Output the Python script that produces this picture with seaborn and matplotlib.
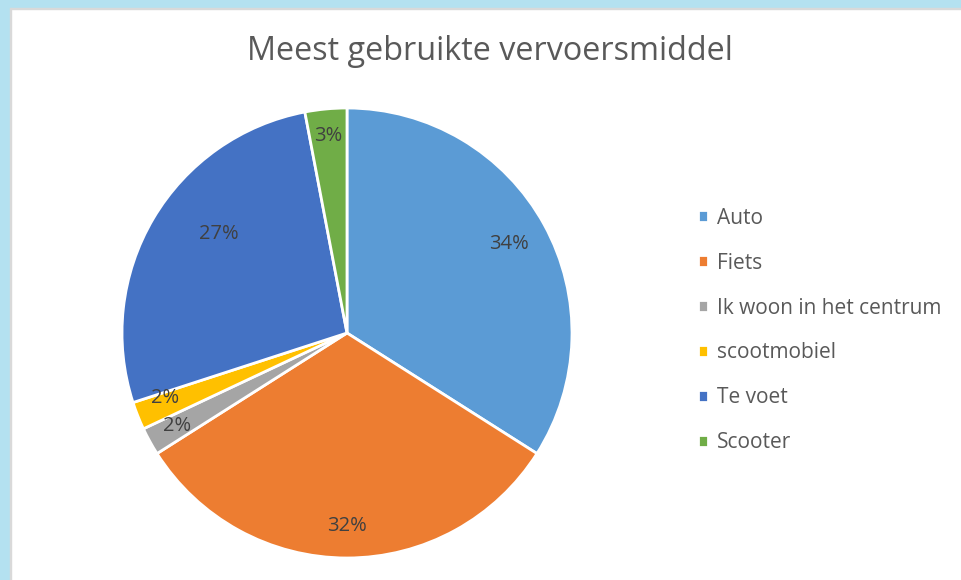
import matplotlib
matplotlib.use("Agg")
import numpy as np
import matplotlib.pyplot as plt
from matplotlib.patches import Rectangle
import seaborn as sns

# data, as shown on the chart
categories = ["Auto", "Fiets", "Ik woon in het centrum", "scootmobiel", "Te voet", "Scooter"]
percentages = [34, 32, 2, 2, 27, 3]
colors = ["#5B9BD5", "#ED7D31", "#A5A5A5", "#FFC000", "#4472C4", "#70AD47"]
# label placement tweaks (fraction of radius, angle shift in degrees), Excel "best fit" look
label_radius = [0.82, 0.86, 0.86, 0.86, 0.72, 0.88]
label_shift = [0, 0, 0, -2, -7, 0]

sns.set_theme(style="white")
plt.rcParams["font.family"] = ["Open Sans", "DejaVu Sans"]

W, H = 961, 580
fig = plt.figure(figsize=(W / 100, H / 100), dpi=100)
fig.patch.set_facecolor("white")

# light blue frame on left and top, like the slide background
blue = "#B4E1F0"
fig.add_artist(Rectangle((0, 0), 10 / W, 1, transform=fig.transFigure, color=blue, zorder=0))
fig.add_artist(Rectangle((0, 1 - 8 / H), 1, 8 / H, transform=fig.transFigure, color=blue, zorder=0))
fig.add_artist(Rectangle((10 / W, 0), 1.2 / W, 1 - 8 / H, transform=fig.transFigure, color="#D9D9D9", zorder=1))
fig.add_artist(Rectangle((10 / W, 1 - 9.2 / H), 1 - 10 / W, 1.2 / H, transform=fig.transFigure, color="#D9D9D9", zorder=1))

cx, cy, r = 347, 333, 225
ax = fig.add_axes([(cx - r) / W, (H - cy - r) / H, 2 * r / W, 2 * r / H])
wedges, texts, autotexts = ax.pie(
    percentages,
    colors=colors,
    startangle=90,
    counterclock=False,
    radius=1,
    autopct=lambda p: f"{p:.0f}%",
    pctdistance=1.0,
    wedgeprops=dict(edgecolor="white", linewidth=2, clip_on=False),
    textprops=dict(color="#404040", fontsize=14.5),
)
for t, f, s in zip(autotexts, label_radius, label_shift):
    x, y = t.get_position()
    a = np.arctan2(y, x) + np.deg2rad(s)
    t.set_position((f * np.cos(a), f * np.sin(a)))
ax.set_xlim(-1, 1)
ax.set_ylim(-1, 1)
ax.set_aspect("equal")
ax.axis("off")

fig.text(490 / W, 1 - 51 / H, "Meest gebruikte vervoersmiddel",
         ha="center", va="center", fontsize=23.3, color="#595959")

fig.legend(wedges, categories, loc="center left",
           bbox_to_anchor=(698 / W, 1 - 330.5 / H),
           frameon=False, fontsize=15, labelcolor="#595959",
           handlelength=0.5, handleheight=0.5, handletextpad=0.42,
           labelspacing=1.15, borderpad=0, borderaxespad=0)

fig.savefig("out.png", dpi=100)
